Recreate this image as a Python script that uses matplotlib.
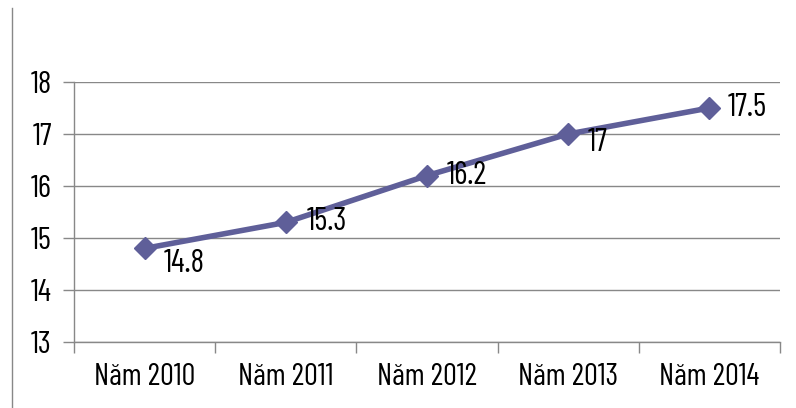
import matplotlib
matplotlib.use("Agg")
import matplotlib.pyplot as plt
from matplotlib.lines import Line2D

categories = ["Năm 2010", "Năm 2011", "Năm 2012", "Năm 2013", "Năm 2014"]
values = [14.8, 15.3, 16.2, 17, 17.5]
value_labels = ["14.8", "15.3", "16.2", "17", "17.5"]
yticks = [13, 14, 15, 16, 17, 18]

plt.rcParams['font.family'] = ["Barlow Condensed", "DejaVu Sans"]
plt.rcParams['font.weight'] = "normal"

fig = plt.figure(figsize=(7.96, 4.08), dpi=100)
ax = fig.add_axes([74/796, 1 - 342/408, 706/796, 260/408])

color = "#5f5f99"
x = list(range(len(categories)))
ax.plot(x, values, color=color, lw=4, marker="D", markersize=11, zorder=3, solid_capstyle="round")

offsets = [(14, -11), (15, 0), (14, 0), (14, -6.5), (13.5, 0)]
for xi, v, lab, off in zip(x, values, value_labels, offsets):
    ax.annotate(lab, (xi, v), xytext=off, textcoords="offset points",
                ha="left", va="center", fontsize=23, color="black")

ax.set_xlim(-0.5, len(categories) - 0.5)
ax.set_ylim(13, 18)
ax.set_yticks(yticks)
ax.set_yticklabels([str(t) for t in yticks], fontsize=22.5)
ax.set_xticks(x)
ax.set_xticklabels(categories, fontsize=22)
ax.set_xticks([i + 0.5 for i in range(-1, len(categories))], minor=True)
ax.tick_params(axis="x", which="major", length=0, pad=15)
ax.tick_params(axis="x", which="minor", length=8, color="#888888", width=1)
ax.tick_params(axis="y", length=8, color="#888888", width=1, pad=8)

ax.grid(axis="y", color="#888888", lw=1)
ax.set_axisbelow(True)
for s in ["top", "right"]:
    ax.spines[s].set_visible(False)
for s in ["left", "bottom"]:
    ax.spines[s].set_color("#888888")
    ax.spines[s].set_linewidth(1)

fig.add_artist(Line2D([12/796, 12/796], [0, 1 - 8/408], color="#888888", lw=1))

fig.savefig("out.png", dpi=100)
